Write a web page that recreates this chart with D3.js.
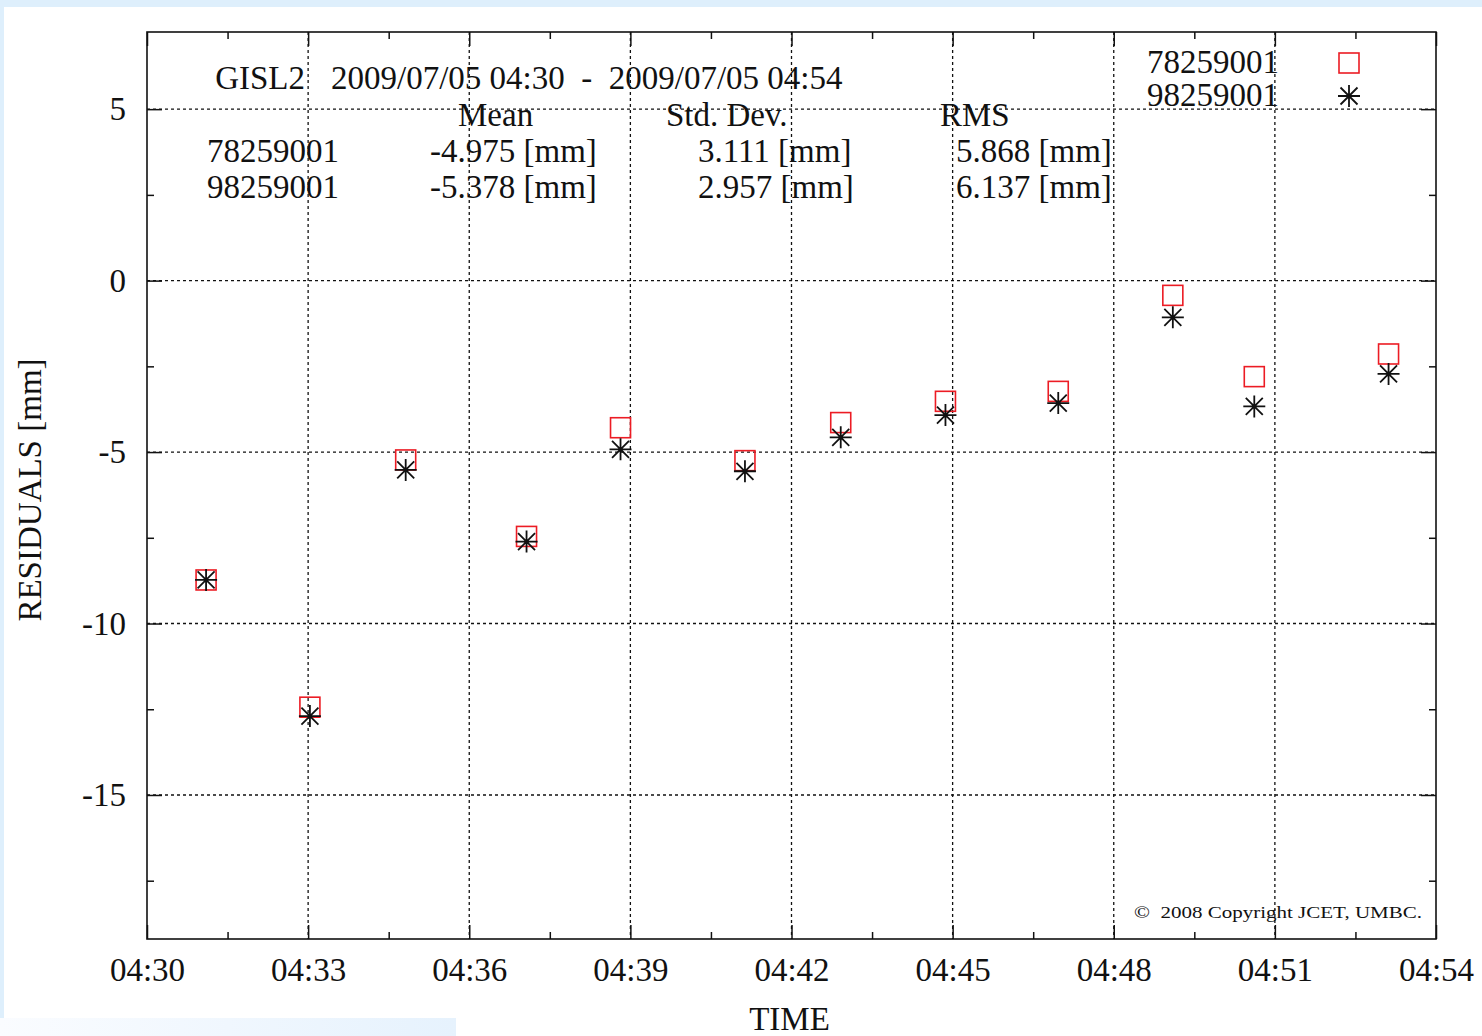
<!DOCTYPE html>
<html>
<head>
<meta charset="utf-8">
<script src="https://cdn.jsdelivr.net/npm/d3@7"></script>
<style>
  body { margin: 0; background: #fff; }
  svg text { font-family: "Liberation Serif", "Times New Roman", serif; fill: #111; white-space: pre; }
</style>
</head>
<body>
<svg id="chart"></svg>
<script>
// residuals of the two passes
var times = ["04:31:06","04:33:02","04:34:49","04:37:04","04:38:49","04:41:08",
             "04:42:55","04:44:52","04:46:58","04:49:06","04:50:37","04:53:07"];
var res78 = [-8.73,-12.44,-5.23,-7.46,-4.29,-5.25,-4.14,-3.52,-3.23,-0.43,-2.80,-2.14];
var res98 = [-8.73,-12.70,-5.52,-7.61,-4.92,-5.56,-4.57,-3.92,-3.57,-1.07,-3.67,-2.72];

var seriesNames = ["78259001","98259001"];
var statHeaders = ["Mean","Std. Dev.","RMS"];
var means = ["-4.975","-5.378"];
var stdDevs = ["3.111","2.957"];
var rmss = ["5.868","6.137"];

var yMajor = [-15,-10,-5,0,5];
var yMinor = [-17.5,-12.5,-7.5,-2.5,2.5];
var timeStart = "04:30:00", timeEnd = "04:54:00";

var W = 1482, H = 1036;
var margin = { top: 32, right: 46, bottom: 97, left: 147 };
var plotW = W - margin.left - margin.right, plotH = H - margin.top - margin.bottom;
var FS = 33;

var parse = d3.timeParse("%H:%M:%S");
var t0 = parse(timeStart), t1 = parse(timeEnd);

var svg = d3.select("#chart").attr("width", W).attr("height", H);

// light blue page background bits
var defs = svg.append("defs");
var grad = defs.append("linearGradient").attr("id", "fade");
grad.append("stop").attr("offset", "0%").attr("stop-color", "#fafcff");
grad.append("stop").attr("offset", "100%").attr("stop-color", "#e6f2fd");
svg.append("rect").attr("width", W).attr("height", H).attr("fill", "#fff");
svg.append("rect").attr("width", W).attr("height", 7).attr("fill", "#deeffc");
svg.append("rect").attr("width", 4).attr("height", 1018).attr("fill", "#deeffc");
svg.append("rect").attr("y", 1018).attr("width", 456).attr("height", 18).attr("fill", "url(#fade)");

var g = svg.append("g").attr("transform", "translate(" + margin.left + "," + margin.top + ")");

var x = d3.scaleTime().domain([t0, t1]).range([0, plotW]);
var y = d3.scaleLinear().domain([-19.2, 7.25]).range([plotH, 0]);

var xMajor = d3.timeMinute.every(3).range(t0, new Date(+t1 + 1));
var xMinor = xMajor.slice(0, -1).map(function(d) { return new Date(+d + 90000); });

// grid
var grid = g.append("g").attr("stroke", "#111").attr("stroke-width", 1.3).attr("stroke-dasharray", "3,3");
grid.selectAll(".gx").data(xMajor.slice(1, -1)).enter().append("line")
  .attr("x1", function(d) { return x(d); }).attr("x2", function(d) { return x(d); })
  .attr("y1", 0).attr("y2", plotH);
grid.selectAll(".gy").data(yMajor).enter().append("line")
  .attr("y1", function(d) { return y(d); }).attr("y2", function(d) { return y(d); })
  .attr("x1", 0).attr("x2", plotW);

function styleAxis(sel) {
  sel.attr("font-family", "Liberation Serif, serif");
  sel.select(".domain").remove();
  sel.selectAll("line").attr("stroke", "#111").attr("stroke-width", 1.5);
  sel.selectAll("text").attr("font-size", FS).attr("fill", "#111");
}

// bottom / top
g.append("g").attr("transform", "translate(0," + plotH + ")")
  .call(d3.axisBottom(x).tickValues(xMajor).tickFormat(d3.timeFormat("%H:%M")).tickSize(-14).tickPadding(19))
  .call(styleAxis);
g.append("g").attr("transform", "translate(0," + plotH + ")")
  .call(d3.axisBottom(x).tickValues(xMinor).tickFormat("").tickSize(-7)).call(styleAxis);
g.append("g").call(d3.axisTop(x).tickValues(xMajor).tickFormat("").tickSize(-14)).call(styleAxis);
g.append("g").call(d3.axisTop(x).tickValues(xMinor).tickFormat("").tickSize(-7)).call(styleAxis);

// left / right
g.append("g")
  .call(d3.axisLeft(y).tickValues(yMajor).tickFormat(function(d) { return String(d); }).tickSize(-15).tickPadding(21))
  .call(styleAxis);
g.append("g").call(d3.axisLeft(y).tickValues(yMinor).tickFormat("").tickSize(-7)).call(styleAxis);
g.append("g").attr("transform", "translate(" + plotW + ",0)")
  .call(d3.axisRight(y).tickValues(yMajor).tickFormat("").tickSize(-15)).call(styleAxis);
g.append("g").attr("transform", "translate(" + plotW + ",0)")
  .call(d3.axisRight(y).tickValues(yMinor).tickFormat("").tickSize(-7)).call(styleAxis);

// frame
g.append("rect").attr("width", plotW).attr("height", plotH)
  .attr("fill", "none").attr("stroke", "#111").attr("stroke-width", 1.6);

// points
var pts = times.map(function(t, i) { return { t: parse(t), a: res78[i], b: res98[i] }; });
var sq = 20;
var starPath = "M-11,0H11M0,-11V11M-8.5,-8.5L8.5,8.5M-8.5,8.5L8.5,-8.5";

g.selectAll(".sq").data(pts).enter().append("rect")
  .attr("x", function(d) { return x(d.t) - sq / 2; })
  .attr("y", function(d) { return y(d.a) - sq / 2; })
  .attr("width", sq).attr("height", sq)
  .attr("fill", "none").attr("stroke", "#ec1c24").attr("stroke-width", 1.6);

g.selectAll(".st").data(pts).enter().append("path")
  .attr("transform", function(d) { return "translate(" + x(d.t) + "," + y(d.b) + ")"; })
  .attr("d", starPath).attr("stroke", "#111").attr("stroke-width", 1.8);

// header block
function txt(xp, yp, s, anchor, size) {
  return svg.append("text").attr("x", xp).attr("y", yp).attr("text-anchor", anchor || "start")
    .attr("font-size", size || FS).text(s);
}
txt(305, 89, "GISL2", "end");
txt(331, 89, "2009/07/05 04:30  -  2009/07/05 04:54");
txt(458, 126, statHeaders[0]);
txt(666, 126, statHeaders[1]);
txt(940, 126, statHeaders[2]);
seriesNames.forEach(function(s, i) {
  var yy = 162 + i * 35.5;
  txt(207, yy, s);
  txt(430, yy, means[i] + " [mm]");
  txt(698, yy, stdDevs[i] + " [mm]");
  txt(956, yy, rmss[i] + " [mm]");
});

// legend
txt(1279, 73, seriesNames[0], "end");
txt(1279, 106, seriesNames[1], "end");
svg.append("rect").attr("x", 1349 - sq / 2).attr("y", 63 - sq / 2).attr("width", sq).attr("height", sq)
  .attr("fill", "none").attr("stroke", "#ec1c24").attr("stroke-width", 1.6);
svg.append("path").attr("transform", "translate(1349,96)").attr("d", starPath)
  .attr("stroke", "#111").attr("stroke-width", 1.8);

// copyright
txt(1134, 918, "\u00a9  2008 Copyright JCET, UMBC.", "start", 17)
  .attr("textLength", 288).attr("lengthAdjust", "spacingAndGlyphs");

// axis titles
txt(margin.left + plotW / 2 - 2, 1030, "TIME", "middle");
svg.append("text").attr("transform", "translate(41,490) rotate(-90)")
  .attr("text-anchor", "middle").attr("font-size", FS).text("RESIDUALS [mm]");
</script>
</body>
</html>
